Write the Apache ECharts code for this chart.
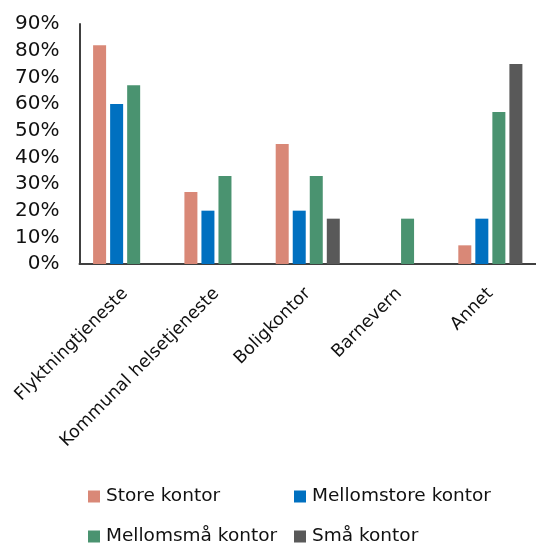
<!DOCTYPE html>
<html>
<head>
<meta charset="utf-8">
<script src="https://cdn.jsdelivr.net/npm/echarts@6/dist/echarts.min.js"></script>
<style>
  html, body { margin: 0; padding: 0; background: #fff; }
  #chart { width: 536px; height: 543px; }
</style>
</head>
<body>
<div id="chart"></div>
<script>
// Share of offices per service area, by office size (percent)
const categories = ['Flyktningtjeneste', 'Kommunal helsetjeneste', 'Boligkontor', 'Barnevern', 'Annet'];
const seriesNames = ['Store kontor', 'Mellomstore kontor', 'Mellomsmå kontor', 'Små kontor'];
const storeKontor = [82, 27, 45, 0, 7];
const mellomstoreKontor = [60, 20, 20, 0, 17];
const mellomsmaKontor = [67, 33, 33, 17, 57];
const smaKontor = [0, 0, 17, 0, 75];
const yTicks = [0, 10, 20, 30, 40, 50, 60, 70, 80, 90];

const colors = ['#D98877', '#0070C0', '#4A9370', '#595959'];
const values = [storeKontor, mellomstoreKontor, mellomsmaKontor, smaKontor];
const font = '"DejaVu Sans", sans-serif';

const chart = echarts.init(document.getElementById('chart'));

// One legend per item so the two columns line up like a grid
const legendPos = [
  { left: 88, top: 487 },
  { left: 294, top: 487 },
  { left: 88, top: 527 },
  { left: 294, top: 527 }
];
const legends = seriesNames.map((name, i) => ({
  data: [name],
  left: legendPos[i].left,
  top: legendPos[i].top,
  itemWidth: 12,
  itemHeight: 12,
  itemGap: 0,
  icon: 'rect',
  padding: 0,
  textStyle: { fontFamily: font, fontSize: 18.5, color: '#111', padding: [0, 0, 0, 1] }
}));

chart.setOption({
  animation: false,
  color: colors,
  legend: legends,
  grid: { left: 79.5, top: 24, width: 468, height: 240, containLabel: false },
  xAxis: {
    type: 'category',
    data: categories,
    axisLine: { lineStyle: { color: '#404040', width: 2 } },
    axisTick: { show: false },
    axisLabel: {
      rotate: 45,
      interval: 0,
      margin: 27,
      fontFamily: font,
      fontSize: 17.5,
      color: '#111'
    }
  },
  yAxis: {
    type: 'value',
    min: yTicks[0],
    max: yTicks[yTicks.length - 1],
    interval: 10,
    splitLine: { show: false },
    axisTick: { show: false },
    axisLine: { show: true, lineStyle: { color: '#404040', width: 2 } },
    axisLabel: {
      margin: 20,
      fontFamily: font,
      fontSize: 20,
      color: '#111',
      formatter: v => v + '%'
    }
  },
  series: seriesNames.map((name, i) => ({
    name: name,
    type: 'bar',
    data: values[i],
    barWidth: 13,
    barGap: '31%',
    itemStyle: { color: colors[i] }
  }))
});
</script>
</body>
</html>
